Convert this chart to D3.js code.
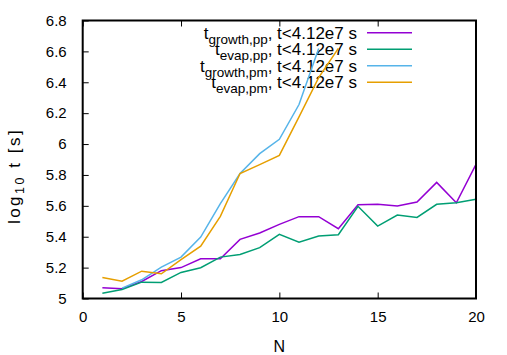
<!DOCTYPE html>
<html>
<head>
<meta charset="utf-8">
<script src="https://cdn.jsdelivr.net/npm/d3@7"></script>
<style>
    body { margin: 0; background: #fff; }
    text { font-family: "Liberation Sans", Arial, sans-serif; }
</style>
</head>
<body>
<script>
// values (log10 of time in seconds)
var nGrowthPP = [1, 2, 3, 4, 5, 6, 7, 8, 9, 10, 11, 12, 13, 14, 15, 16, 17,
    18, 19, 20];
var growthPP = [5.07, 5.063, 5.11, 5.18, 5.20, 5.257, 5.257, 5.383, 5.424,
    5.48, 5.53, 5.53, 5.452, 5.607, 5.61, 5.599, 5.625, 5.752, 5.62, 5.869];
var nEvapPP = nGrowthPP;
var evapPP = [5.034, 5.058, 5.106, 5.104, 5.169, 5.199, 5.268, 5.285, 5.329,
    5.415, 5.365, 5.404, 5.413, 5.597, 5.469, 5.54, 5.525, 5.61, 5.62, 5.642];
var nGrowthPM = [2, 3, 4, 5, 6, 7, 8, 9, 10, 11, 12];
var growthPM = [5.067, 5.121, 5.203, 5.268, 5.398, 5.614, 5.809, 5.938,
    6.031, 6.256, 6.619];
var nEvapPM = [1, 2, 3, 4, 5, 6, 7, 8, 9, 10, 11, 12, 13];
var evapPM = [5.136, 5.112, 5.177, 5.16, 5.251, 5.339, 5.532, 5.809, 5.867,
    5.927, 6.176, 6.43, 6.62];

var xTicks = [0, 5, 10, 15, 20];
var yTicks = [5, 5.2, 5.4, 5.6, 5.8, 6, 6.2, 6.4, 6.6, 6.8];

// legend: main symbol, subscript, rest
var seriesNames = [
    ["t", "growth,pp", ", t<4.12e7 s"],
    ["t", "evap,pp", ", t<4.12e7 s"],
    ["t", "growth,pm", ", t<4.12e7 s"],
    ["t", "evap,pm", ", t<4.12e7 s"]
];
var colors = ["#9400d3", "#009e73", "#56b4e9", "#e69f00"];

var W = 507, H = 355;
var plot = {left: 82.7, right: 476, top: 20.5, bottom: 298.5};

var svg = d3.select("body").append("svg")
    .attr("width", W)
    .attr("height", H);

var xScale = d3.scaleLinear().domain([0, 20])
    .range([plot.left, plot.right]);
var yScale = d3.scaleLinear().domain([5, 6.8])
    .range([plot.bottom, plot.top]);

// inward ticks, gnuplot style
var xAxis = d3.axisBottom(xScale).tickValues(xTicks).tickSize(-6)
    .tickPadding(13).tickFormat(d3.format("d"));
var xAxisTop = d3.axisTop(xScale).tickValues(xTicks).tickSize(-6)
    .tickFormat("");
var yAxis = d3.axisLeft(yScale).tickValues(yTicks).tickSize(-6)
    .tickPadding(16)
    .tickFormat(function(d) { return String(+d.toFixed(1)); });

function styleAxis(g) {
    g.select(".domain").remove();
    g.selectAll(".tick line").attr("stroke", "#000").attr("stroke-width", 1);
    g.selectAll(".tick text").attr("font-size", "15px").attr("fill", "#000")
        .attr("font-family", "Liberation Sans, Arial, sans-serif");
}

svg.append("g")
    .attr("transform", "translate(0," + plot.bottom + ")")
    .call(xAxis).call(styleAxis);
svg.append("g")
    .attr("transform", "translate(0," + plot.top + ")")
    .call(xAxisTop).call(styleAxis);
svg.append("g")
    .attr("transform", "translate(" + plot.left + ",0)")
    .call(yAxis).call(styleAxis);

// axis labels
svg.append("text")
    .attr("x", xScale(10))
    .attr("y", 352)
    .attr("text-anchor", "middle")
    .attr("font-size", "16px")
    .text("N");

var yl = svg.append("text")
    .attr("transform", "translate(20,176)rotate(-90)")
    .attr("text-anchor", "middle")
    .attr("font-size", "17px")
    .attr("letter-spacing", "2.5px");
yl.append("tspan").text("log");
yl.append("tspan").attr("font-size", "12.5px").attr("dy", 4).text("10");
yl.append("tspan").attr("dy", -4).text(" t [s]");

// legend text first, data lines get drawn over it
var rowY = [32.8, 49.3, 65.8, 82.3];
seriesNames.forEach(function(s, i) {
    var t = svg.append("text")
        .attr("x", 357)
        .attr("y", rowY[i] + 6)
        .attr("text-anchor", "end")
        .attr("font-size", "17px");
    t.append("tspan").text(s[0]);
    t.append("tspan").attr("font-size", "13.5px").attr("dy", 5).text(s[1]);
    t.append("tspan").attr("dy", -5).text(s[2]);
});

var line = d3.line()
    .x(function(d) { return xScale(d[0]); })
    .y(function(d) { return yScale(d[1]); });

var series = [
    d3.zip(nGrowthPP, growthPP),
    d3.zip(nEvapPP, evapPP),
    d3.zip(nGrowthPM, growthPM),
    d3.zip(nEvapPM, evapPM)
];

series.forEach(function(s, i) {
    svg.append("path")
        .datum(s)
        .attr("d", line)
        .attr("fill", "none")
        .attr("stroke", colors[i])
        .attr("stroke-width", 1.5)
        .attr("stroke-linejoin", "miter");

    svg.append("line")
        .attr("x1", 367).attr("x2", 412)
        .attr("y1", rowY[i]).attr("y2", rowY[i])
        .attr("stroke", colors[i])
        .attr("stroke-width", 1.5);
});

// frame
svg.append("rect")
    .attr("x", plot.left).attr("y", plot.top)
    .attr("width", plot.right - plot.left)
    .attr("height", plot.bottom - plot.top)
    .attr("fill", "none")
    .attr("stroke", "#000")
    .attr("stroke-width", 2);
</script>
</body>
</html>
